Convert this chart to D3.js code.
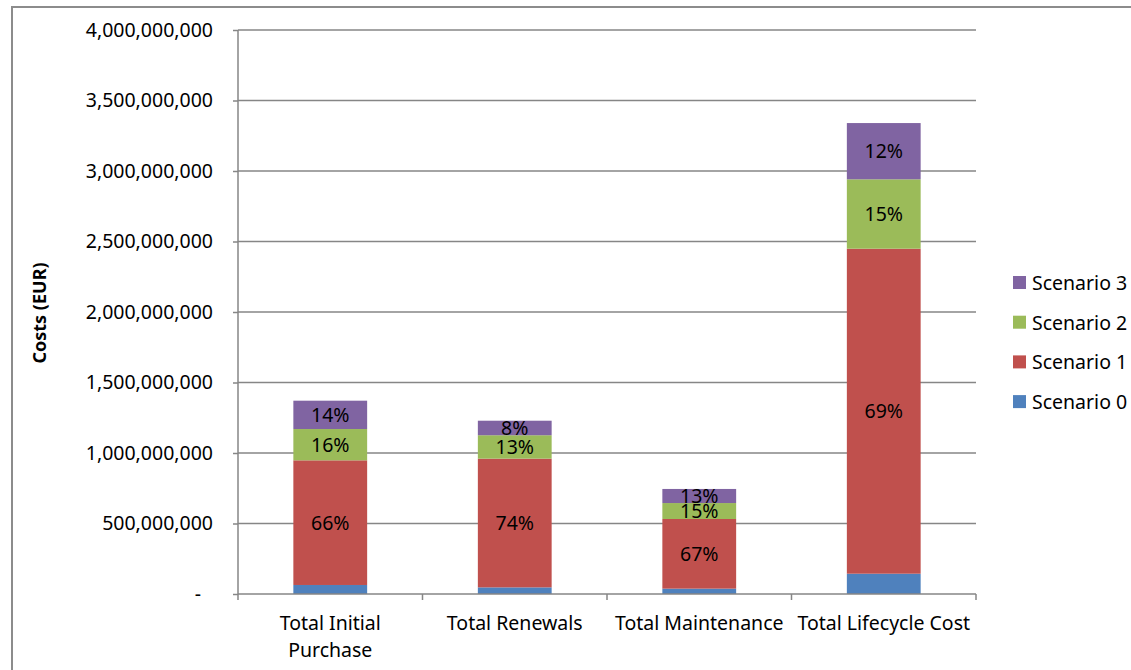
<!DOCTYPE html>
<html>
<head>
<meta charset="utf-8">
<script src="https://cdn.jsdelivr.net/npm/d3@7"></script>
<style>
  body { margin: 0; background: #fff; }
  svg text { font-family: "Noto Sans", "DejaVu Sans", sans-serif; fill: #000; }
  .grid line { stroke: #868686; stroke-width: 1.3; }
  .axis path, .axis line { stroke: #868686; stroke-width: 1.5; }
</style>
</head>
<body>
<div id="chart"></div>
<script>
var categories = ["Total Initial Purchase", "Total Renewals", "Total Maintenance", "Total Lifecycle Cost"]
var seriesNames = ["Scenario 0", "Scenario 1", "Scenario 2", "Scenario 3"]
var scenario0 = [64e6, 47e6, 38e6, 144e6]
var scenario1 = [884e6, 913e6, 494e6, 2305e6]
var scenario2 = [222e6, 166e6, 113e6, 492e6]
var scenario3 = [201e6, 103e6, 100e6, 399e6]
var pctLabels1 = ["66%", "74%", "67%", "69%"]
var pctLabels2 = ["16%", "13%", "15%", "15%"]
var pctLabels3 = ["14%", "8%", "13%", "12%"]
var yTicks = [0, 5e8, 1e9, 1.5e9, 2e9, 2.5e9, 3e9, 3.5e9, 4e9]
var colors = ["#4F81BD", "#C0504D", "#9BBB59", "#8064A2"]

var W = 1131, H = 670
var margin = { top: 30, left: 238, right: 155, bottom: 76 }
var width = 976 - margin.left
var height = 594 - margin.top
var fs = "19.5px"

var svg = d3.select("#chart").append("svg")
    .attr("width", W)
    .attr("height", H)

// outer chart frame
svg.append("rect")
    .attr("x", 12).attr("y", 7)
    .attr("width", W + 20).attr("height", H + 20)
    .attr("fill", "none")
    .attr("stroke", "#8c8c8c")
    .attr("stroke-width", 2)

var g = svg.append("g")
    .attr("transform", "translate(" + margin.left + "," + margin.top + ")")

var x = d3.scaleBand().domain(categories).range([0, width]).padding(0)
var y = d3.scaleLinear().domain([0, 4e9]).range([height, 0])

// build stacked rows
var rows = categories.map(function(c, i) {
    return { cat: c, "Scenario 0": scenario0[i], "Scenario 1": scenario1[i],
             "Scenario 2": scenario2[i], "Scenario 3": scenario3[i] }
})
var stack = d3.stack().keys(seriesNames)(rows)
var labels = [null, pctLabels1, pctLabels2, pctLabels3]

// gridlines
g.append("g").attr("class", "grid")
    .selectAll("line")
    .data(yTicks.slice(1))
    .enter().append("line")
    .attr("x1", 0).attr("x2", width)
    .attr("y1", function(d) { return y(d) })
    .attr("y2", function(d) { return y(d) })

var barW = x.bandwidth() * 0.4

var layers = g.selectAll(".layer")
    .data(stack)
    .enter().append("g")
    .attr("class", "layer")
    .attr("fill", function(d, i) { return colors[i] })

layers.selectAll("rect")
    .data(function(d) { return d })
    .enter().append("rect")
    .attr("x", function(d) { return x(d.data.cat) + (x.bandwidth() - barW) / 2 })
    .attr("width", barW)
    .attr("y", function(d) { return y(d[1]) })
    .attr("height", function(d) { return y(d[0]) - y(d[1]) })

// percentage labels
stack.forEach(function(layer, si) {
    if (!labels[si]) return
    g.selectAll(".lbl" + si)
        .data(layer)
        .enter().append("text")
        .attr("x", function(d) { return x(d.data.cat) + x.bandwidth() / 2 })
        .attr("y", function(d) { return (y(d[0]) + y(d[1])) / 2 })
        .attr("dy", "0.36em")
        .attr("text-anchor", "middle")
        .style("font-size", fs)
        .text(function(d, i) { return labels[si][i] })
})

// y axis
var yAxis = g.append("g").attr("class", "axis")
    .call(d3.axisLeft(y).tickValues(yTicks).tickSize(5).tickPadding(20)
        .tickFormat(function(d) { return d === 0 ? "-" : d3.format(",")(d) }))
yAxis.select(".domain").attr("d", "M0,0V" + height)
yAxis.selectAll("text").style("font-size", fs)
yAxis.selectAll(".tick").filter(function(d) { return d === 0 })
    .select("text").attr("dx", "-12")

// x axis
var xAxis = g.append("g").attr("class", "axis")
    .attr("transform", "translate(0," + height + ")")
    .call(d3.axisBottom(x).tickSize(0).tickPadding(22))
xAxis.select(".domain").attr("d", "M0,0H" + width)
xAxis.selectAll(".boundary")
    .data(d3.range(categories.length + 1))
    .enter().append("line")
    .attr("x1", function(d) { return d * x.step() })
    .attr("x2", function(d) { return d * x.step() })
    .attr("y1", 0).attr("y2", 6)

xAxis.selectAll(".tick text")
    .style("font-size", fs)
    .each(function(d) {
        var t = d3.select(this)
        var words = d.split(" ")
        var maxW = x.bandwidth() - 2
        t.text(d)
        if (this.getComputedTextLength() <= maxW) return
        t.text(null)
        var line = []
        var tspan = t.append("tspan").attr("x", 0).attr("dy", "0.71em")
        words.forEach(function(w) {
            line.push(w)
            tspan.text(line.join(" "))
            if (tspan.node().getComputedTextLength() > maxW && line.length > 1) {
                line.pop()
                tspan.text(line.join(" "))
                line = [w]
                tspan = t.append("tspan").attr("x", 0).attr("dy", "1.4em").text(w)
            }
        })
    })

// y axis title
svg.append("text")
    .attr("transform", "translate(46,313) rotate(-90)")
    .attr("text-anchor", "middle")
    .style("font-size", "18px")
    .style("font-weight", "bold")
    .text("Costs (EUR)")

// legend
var legend = svg.append("g")
    .selectAll("g")
    .data(seriesNames.slice().reverse())
    .enter().append("g")
    .attr("transform", function(d, i) { return "translate(1013," + (276 + i * 39.7) + ")" })
legend.append("rect")
    .attr("width", 13).attr("height", 13)
    .attr("fill", function(d) { return colors[seriesNames.indexOf(d)] })
legend.append("text")
    .attr("x", 19).attr("y", 7)
    .attr("dy", "0.36em")
    .style("font-size", fs)
    .text(function(d) { return d })
</script>
</body>
</html>
